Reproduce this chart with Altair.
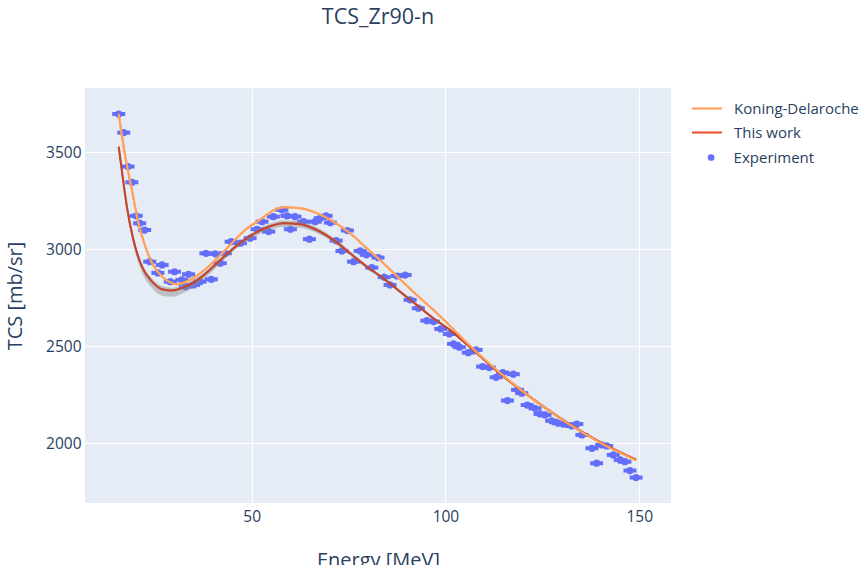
import altair as alt
import pandas as pd

# Experimental data (Energy [MeV], TCS [mb/sr])
exp_E = [15.7, 17.0, 18.1, 19.1, 20.2, 21.1, 22.4, 23.7, 25.8, 26.9, 29.0, 30.1, 32.0, 32.9,
         33.7, 35.0, 36.7, 38.2, 39.6, 40.6, 41.9, 43.2, 44.7, 47.1, 49.6, 51.4, 52.7, 54.4,
         55.6, 57.8, 59.1, 60.0, 61.2, 63.4, 64.9, 66.4, 67.7, 69.2, 70.3, 71.8, 73.3, 74.7,
         76.3, 78.0, 79.6, 81.0, 82.6, 84.2, 85.7, 87.5, 89.6, 90.9, 93.0, 95.2, 96.9, 98.8,
         101.0, 102.1, 103.6, 105.9, 107.9, 109.6, 111.3, 113.1, 114.8, 116.0, 117.5, 118.6,
         119.7, 121.1, 123.1, 124.4, 125.7, 127.4, 129.1, 130.4, 132.6, 133.9, 135.2, 137.8,
         139.0, 140.3, 141.6, 143.3, 145.1, 146.3, 147.6, 149.2]
exp_TCS = [3697, 3601, 3426, 3345, 3172, 3134, 3099, 2936, 2878, 2919, 2833, 2884, 2842, 2807,
           2871, 2816, 2833, 2979, 2845, 2976, 2928, 2979, 3039, 3031, 3057, 3103, 3142, 3091,
           3168, 3203, 3172, 3103, 3168, 3142, 3052, 3142, 3160, 3172, 3137, 3044, 2991, 3096,
           2936, 2991, 2971, 2905, 2957, 2856, 2816, 2862, 2867, 2739, 2696, 2632, 2627, 2589,
           2563, 2512, 2495, 2467, 2481, 2395, 2390, 2340, 2364, 2220, 2356, 2275,
           2258, 2197, 2180, 2151, 2146, 2116, 2103, 2099, 2089, 2099, 2043, 1974,
           1897, 1991, 1986, 1940, 1914, 1905, 1859, 1823]

# Koning-Delaroche
kd_E = [15.7, 17.4, 19.1, 20.8, 22.6, 24.3, 26.9, 29.4, 30.7, 32.0, 35.5, 39.8, 44.0, 48.3,
        52.7, 54.0, 58.2, 62.5, 66.8, 71.1, 75.4, 79.7, 84.0, 88.3, 92.6, 96.9, 101.2, 105.5,
        109.0, 114.1, 122.7, 131.3, 139.9, 149.2]
kd_TCS = [3697, 3477, 3306, 3134, 3013, 2928, 2859, 2825, 2820, 2825, 2859, 2928, 3013, 3099,
          3160, 3180, 3216, 3211, 3186, 3142, 3082, 3005, 2928, 2845, 2764, 2687, 2605, 2518,
          2452, 2362, 2226, 2106, 2003, 1912]

# This work (with uncertainty band)
tw_E = [15.7, 16.6, 17.8, 19.5, 21.7, 24.3, 26.9, 29.4, 32.9, 37.2, 41.5, 45.8, 50.1, 54.4,
        58.2, 62.5, 66.8, 71.1, 75.4, 79.7, 84.0, 88.3, 92.6, 96.9, 101.2, 105.5, 109.0,
        114.1, 122.7, 131.3, 139.9, 149.2]
tw_TCS = [3529, 3392, 3220, 3048, 2910, 2833, 2794, 2787, 2807, 2859, 2936, 3013, 3074, 3116,
          3134, 3129, 3099, 3048, 2979, 2910, 2850, 2781, 2713, 2644, 2583, 2510, 2448,
          2358, 2226, 2108, 2006, 1915]
tw_lo = [3500, 3365, 3195, 3020, 2880, 2800, 2760, 2755, 2780, 2838, 2918, 2998, 3058, 3098,
         3115, 3111, 3083, 3034, 2967, 2900, 2841, 2773, 2706, 2637, 2577, 2504, 2442,
         2353, 2221, 2103, 2001, 1910]
tw_hi = [3545, 3410, 3240, 3068, 2928, 2850, 2810, 2802, 2822, 2872, 2948, 3024, 3086, 3130,
         3148, 3144, 3113, 3060, 2990, 2920, 2858, 2789, 2720, 2651, 2590, 2516, 2454,
         2363, 2231, 2113, 2011, 1920]

x_ticks = [50, 100, 150]
y_ticks = [2000, 2500, 3000, 3500]

FONT = "Open Sans"
TXT = "#2a3f5f"

exp_df = pd.DataFrame({"E": exp_E, "TCS": exp_TCS, "src": "Experiment"})
lines_df = pd.concat([
    pd.DataFrame({"E": kd_E, "TCS": kd_TCS, "series": "Koning-Delaroche"}),
    pd.DataFrame({"E": tw_E, "TCS": tw_TCS, "series": "This work"}),
])
tw_df = pd.DataFrame({"E": tw_E, "TCS": tw_TCS, "lo": tw_lo, "hi": tw_hi})

xs = alt.Scale(domain=[7, 158.2], nice=False, zero=False)
ys = alt.Scale(domain=[1692, 3831], nice=False, zero=False)

x_axis = alt.Axis(title="Energy [MeV]", values=x_ticks, grid=True, domain=False, ticks=False,
                  format="d", labelPadding=6, titlePadding=26)
y_axis = alt.Axis(title="TCS [mb/sr]", values=y_ticks, grid=True, domain=False, ticks=False,
                  format="d", labelPadding=4, titlePadding=20)

X = alt.X("E:Q", scale=xs, axis=x_axis)
Y = alt.Y("TCS:Q", scale=ys, axis=y_axis)

base_exp = alt.Chart(exp_df)
exp_ticks = base_exp.mark_tick(orient="horizontal", size=13, thickness=4, color="#636EFA",
                               opacity=1).encode(x=X, y=Y)
exp_pts = base_exp.mark_point(filled=True, size=52, opacity=1, color="#636EFA").encode(
    x=X, y=Y,
    shape=alt.Shape("src:N", scale=alt.Scale(domain=["Experiment"], range=["circle"]),
                    legend=alt.Legend(title=None, orient="none", legendX=618.6, legendY=62,
                                      symbolFillColor="#636EFA", symbolStrokeColor="#636EFA",
                                      symbolStrokeWidth=0, symbolSize=45, symbolOpacity=1,
                                      labelFont=FONT, labelFontSize=15, labelColor=TXT,
                                      labelOffset=15, padding=0)),
)

band = alt.Chart(tw_df).mark_area(color="#8a8a8a", opacity=0.45, interpolate="monotone").encode(
    x=X, y=alt.Y("lo:Q", scale=ys, axis=y_axis), y2="hi:Q")

lines = alt.Chart(lines_df).mark_line(strokeWidth=2, interpolate="monotone").encode(
    x=X, y=Y,
    color=alt.Color("series:N",
                    scale=alt.Scale(domain=["Koning-Delaroche", "This work"],
                                    range=["#FFA15A", "#EF553B"]),
                    legend=alt.Legend(title=None, orient="none", legendX=613, legendY=11.5,
                                      symbolType="M-2,0H2", symbolStrokeWidth=2.2, symbolSize=225,
                                      labelFont=FONT, labelFontSize=15, labelColor=TXT,
                                      labelOffset=18, rowPadding=7, padding=0)),
    order=alt.Order("series:N", sort="descending"),
)

tw_dark = alt.Chart(tw_df).mark_line(strokeWidth=2, interpolate="monotone", color="#9a3624",
                                     opacity=0.55).encode(x=X, y=Y)

kd_only = alt.Chart(lines_df[lines_df["series"] == "Koning-Delaroche"]).mark_line(
    strokeWidth=2, interpolate="monotone", color="#FFA15A").encode(x=X, y=Y)

chart = alt.layer(exp_ticks, exp_pts, band, lines, tw_dark, kd_only).properties(
    width=586, height=415,
    background="white",
    autosize=alt.AutoSizeParams(type="none"),
    padding={"left": 85, "top": 88, "right": 195, "bottom": 62},
    title=alt.TitleParams("TCS_Zr90-n", font=FONT, fontSize=21.5, fontWeight="normal",
                          color=TXT, anchor="middle", offset=60),
).configure_view(fill="#E5ECF6", stroke=None).configure_axis(
    gridColor="white", gridWidth=1.2, labelFont=FONT, labelFontSize=15.5, labelColor=TXT,
    titleFont=FONT, titleFontSize=20, titleFontWeight="normal", titleColor=TXT,
)

chart.save("out.html", embed_options={"renderer": "svg", "actions": False})
